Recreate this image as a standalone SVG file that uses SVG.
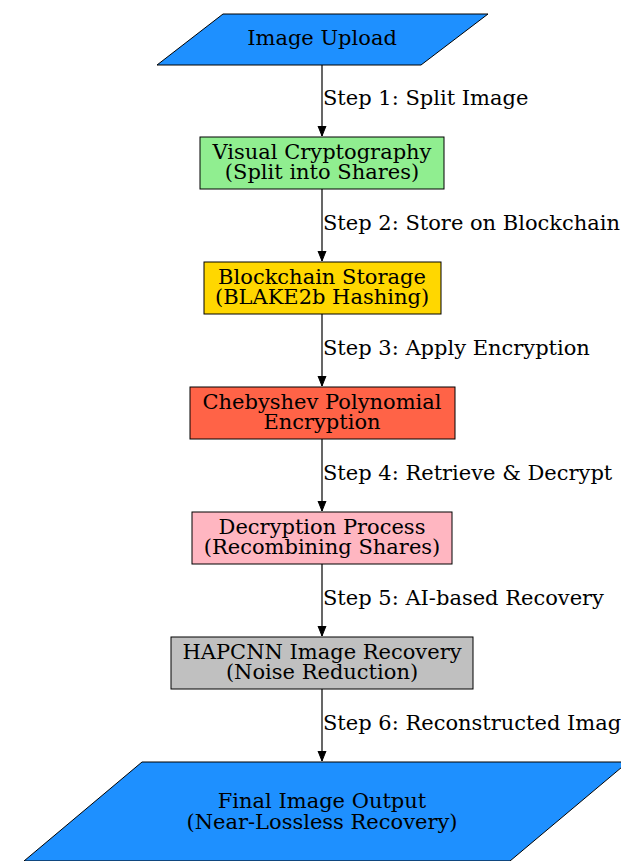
<svg xmlns="http://www.w3.org/2000/svg" width="636" height="861" viewBox="0 0 636 861">
<defs>
<style>
.n{stroke:#000;stroke-width:1}
.t{font-family:"DejaVu Serif",serif;font-size:19.5px;fill:#000;text-anchor:middle}
.l{font-family:"DejaVu Serif",serif;font-size:19.5px;fill:#000}
.e{stroke:#000;stroke-width:1.2;fill:none}
</style>
<marker id="ah" markerWidth="10" markerHeight="10" viewBox="0 0 10 10" refX="10" refY="5" orient="auto" markerUnits="userSpaceOnUse">
<path d="M0,1 L10,5 L0,9 Z" fill="#000" stroke="#000"/>
</marker>
<clipPath id="c"><rect x="0" y="0" width="621" height="861"/></clipPath>
</defs>
<rect width="636" height="861" fill="#fff"/>
<g clip-path="url(#c)">
<g id="connectors">
<line class="e" x1="322" y1="65" x2="322" y2="136" marker-end="url(#ah)"/>
<line class="e" x1="322" y1="189" x2="322" y2="261" marker-end="url(#ah)"/>
<line class="e" x1="322" y1="314" x2="322" y2="386" marker-end="url(#ah)"/>
<line class="e" x1="322" y1="439" x2="322" y2="511" marker-end="url(#ah)"/>
<line class="e" x1="322" y1="564" x2="322" y2="636" marker-end="url(#ah)"/>
<line class="e" x1="322" y1="689" x2="322" y2="761" marker-end="url(#ah)"/>
<g transform="scale(1.077,1)">
<text class="l" x="299.9" y="105.5">Step 1: Split Image</text>
<text class="l" x="299.9" y="230.5">Step 2: Store on Blockchain</text>
<text class="l" x="299.9" y="355.5">Step 3: Apply Encryption</text>
<text class="l" x="299.9" y="480.5">Step 4: Retrieve &amp; Decrypt</text>
<text class="l" x="299.9" y="605.5">Step 5: AI-based Recovery</text>
<text class="l" x="299.9" y="730.5">Step 6: Reconstructed Image</text>
</g>
</g>
<g id="upload">
<polygon class="n" points="223,14 488,14 421,65 157,65" fill="#1E90FF"/>
<text class="t" transform="scale(1.077,1)" x="299" y="45.5">Image Upload</text>
</g>
<g id="vc">
<rect class="n" x="200" y="137" width="244" height="52" fill="#90EE90"/>
<text class="t" transform="scale(1.077,1)" x="299" y="159.5">Visual Cryptography</text>
<text class="t" transform="scale(1.077,1)" x="299" y="179.5">(Split into Shares)</text>
</g>
<g id="bc">
<rect class="n" x="204" y="262" width="237" height="52" fill="#FFD700"/>
<text class="t" transform="scale(1.077,1)" x="299" y="284.5">Blockchain Storage</text>
<text class="t" transform="scale(1.077,1)" x="299" y="304.5">(BLAKE2b Hashing)</text>
</g>
<g id="cheb">
<rect class="n" x="190" y="387" width="265" height="52" fill="#FF6347"/>
<text class="t" transform="scale(1.077,1)" x="299" y="409.5">Chebyshev Polynomial</text>
<text class="t" transform="scale(1.077,1)" x="299" y="429.5">Encryption</text>
</g>
<g id="dec">
<rect class="n" x="192" y="512" width="260" height="52" fill="#FFB6C1"/>
<text class="t" transform="scale(1.077,1)" x="299" y="534.5">Decryption Process</text>
<text class="t" transform="scale(1.077,1)" x="299" y="554.5">(Recombining Shares)</text>
</g>
<g id="hapcnn">
<rect class="n" x="171" y="637" width="302" height="52" fill="#C0C0C0"/>
<text class="t" transform="scale(1.077,1)" x="299" y="659.5">HAPCNN Image Recovery</text>
<text class="t" transform="scale(1.077,1)" x="299" y="679.5">(Noise Reduction)</text>
</g>
<g id="final">
<polygon class="n" points="142,762 628,762 510,861 24,861" fill="#1E90FF"/>
<text class="t" transform="scale(1.077,1)" x="299" y="808.5">Final Image Output</text>
<text class="t" transform="scale(1.077,1)" x="299" y="829.5">(Near-Lossless Recovery)</text>
</g>
</g>
</svg>
